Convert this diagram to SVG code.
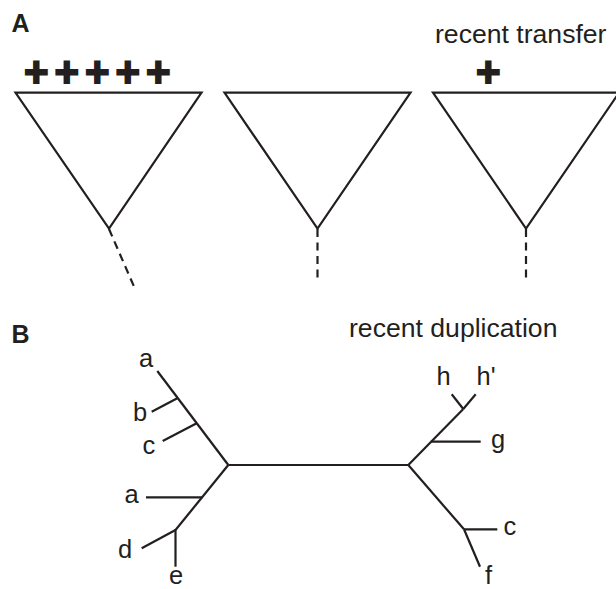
<svg xmlns="http://www.w3.org/2000/svg" width="616" height="589" viewBox="0 0 616 589">
<style>
text{font-family:"Liberation Sans",Arial,Helvetica,sans-serif;fill:#231f20}
.panel{font-size:25px;font-weight:bold}
.head{font-size:26.6px}
.lab{font-size:25.5px}
.plus{font-size:42px;font-weight:bold;stroke:#231f20;stroke-width:1.8px;text-anchor:middle}
.ln{fill:none;stroke:#231f20;stroke-width:2.2;stroke-linecap:butt;stroke-linejoin:miter}
.dash{fill:none;stroke:#231f20;stroke-width:2.2;stroke-dasharray:8 5.5}
</style>
<rect width="616" height="589" fill="#fff"/>
<g id="panelA">
<text class="panel" x="11.5" y="32">A</text>
<text class="head" x="435" y="42.7">recent transfer</text>
<g id="clade1">
<polygon class="ln" points="15.5,92.7 201.5,92.7 109,228.5"/>
<text class="plus" x="36.3 66.8 97.3 127.8 158.3" y="86">+++++</text>
</g>
<g id="clade2">
<polygon class="ln" points="224.5,92.7 410.5,92.7 317.5,228.5"/>
</g>
<g id="clade3">
<polygon class="ln" points="433,92.7 619,92.7 526,228.5"/>
<text class="plus" x="488.3" y="86">+</text>
</g>
<g id="stems">
<line class="dash" x1="109" y1="229" x2="135.5" y2="290"/>
<line class="dash" x1="317.5" y1="229" x2="317.5" y2="281"/>
<line class="dash" x1="526" y1="229" x2="526" y2="281"/>
</g>
</g>
<g id="panelB">
<text class="panel" x="11.5" y="343">B</text>
<text class="head" x="349" y="337.3">recent duplication</text>
<g id="connectors">
<line class="ln" x1="157.3" y1="371" x2="228.3" y2="465"/>
<line class="ln" x1="151.7" y1="411.7" x2="177.3" y2="398.3"/>
<line class="ln" x1="162.7" y1="441" x2="196.7" y2="423.3"/>
<line class="ln" x1="228.3" y1="465" x2="408.3" y2="465"/>
<line class="ln" x1="228.3" y1="465" x2="175.5" y2="530"/>
<line class="ln" x1="146" y1="497.3" x2="202.3" y2="497.3"/>
<line class="ln" x1="175.5" y1="530" x2="141.7" y2="548.3"/>
<line class="ln" x1="175.5" y1="529" x2="175.5" y2="566.7"/>
<line class="ln" x1="408.3" y1="465" x2="463.3" y2="409"/>
<line class="ln" x1="463.3" y1="409" x2="475.7" y2="394.3"/>
<line class="ln" x1="463.3" y1="409" x2="451.7" y2="394.3"/>
<line class="ln" x1="430.7" y1="441.7" x2="480.7" y2="441.7"/>
<line class="ln" x1="408.3" y1="465" x2="464" y2="529.3"/>
<line class="ln" x1="464" y1="529.3" x2="497.3" y2="529.3"/>
<line class="ln" x1="464" y1="529.3" x2="480" y2="566.7"/>
</g>
<g id="leaf-a1"><text class="lab" x="139" y="367.3">a</text></g>
<g id="leaf-b"><text class="lab" x="133" y="420.7">b</text></g>
<g id="leaf-c1"><text class="lab" x="142.5" y="454">c</text></g>
<g id="leaf-a2"><text class="lab" x="124.5" y="502.7">a</text></g>
<g id="leaf-d"><text class="lab" x="118" y="557.5">d</text></g>
<g id="leaf-e"><text class="lab" x="169" y="584">e</text></g>
<g id="leaf-h"><text class="lab" x="436.5" y="385">h</text></g>
<g id="leaf-h2"><text class="lab" x="476.5" y="385">h'</text></g>
<g id="leaf-g"><text class="lab" x="491" y="447.5">g</text></g>
<g id="leaf-c2"><text class="lab" x="503.5" y="534.5">c</text></g>
<g id="leaf-f"><text class="lab" x="485" y="584">f</text></g>
</g>
</svg>
